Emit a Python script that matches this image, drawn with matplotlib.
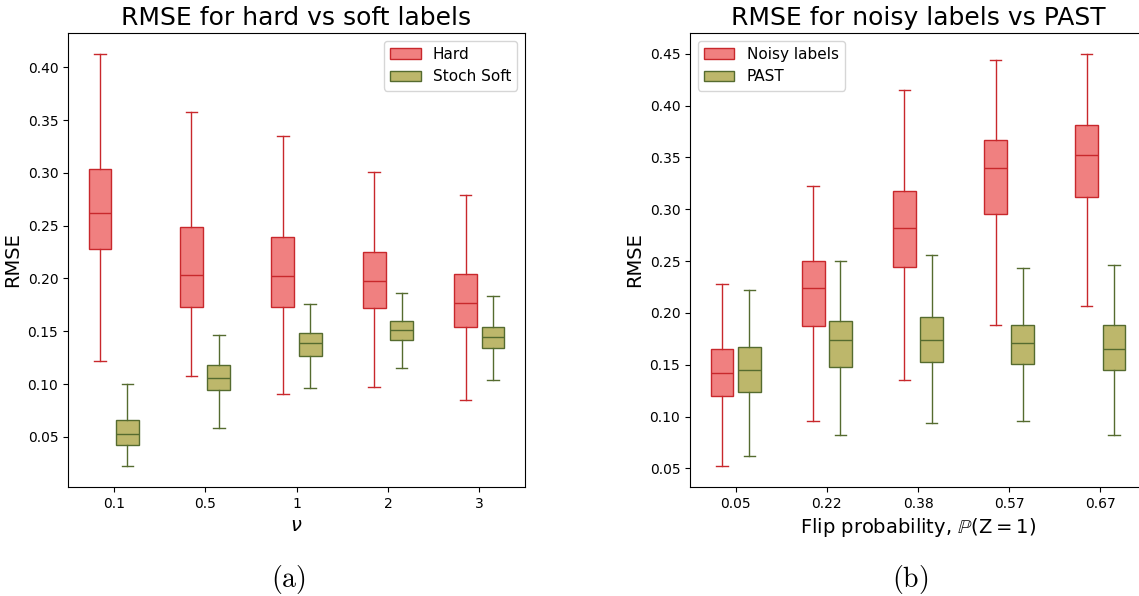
import matplotlib
matplotlib.use("Agg")
import matplotlib.pyplot as plt
from matplotlib.patches import Patch

# ---------- data (box statistics) ----------
nu_labels = ["0.1", "0.5", "1", "2", "3"]
hard_lo  = [0.122, 0.108, 0.091, 0.097, 0.085]
hard_q1  = [0.228, 0.173, 0.173, 0.172, 0.154]
hard_med = [0.262, 0.203, 0.202, 0.198, 0.177]
hard_q3  = [0.304, 0.249, 0.239, 0.225, 0.204]
hard_hi  = [0.413, 0.358, 0.335, 0.301, 0.279]

soft_lo  = [0.022, 0.058, 0.096, 0.115, 0.104]
soft_q1  = [0.042, 0.094, 0.127, 0.142, 0.134]
soft_med = [0.053, 0.106, 0.139, 0.151, 0.145]
soft_q3  = [0.066, 0.118, 0.148, 0.160, 0.154]
soft_hi  = [0.100, 0.146, 0.176, 0.186, 0.183]

flip_labels = ["0.05", "0.22", "0.38", "0.57", "0.67"]
noisy_lo  = [0.052, 0.096, 0.135, 0.188, 0.207]
noisy_q1  = [0.120, 0.187, 0.244, 0.295, 0.312]
noisy_med = [0.142, 0.224, 0.282, 0.340, 0.352]
noisy_q3  = [0.165, 0.250, 0.318, 0.367, 0.381]
noisy_hi  = [0.228, 0.322, 0.415, 0.444, 0.450]

past_lo  = [0.062, 0.082, 0.094, 0.096, 0.082]
past_q1  = [0.124, 0.148, 0.153, 0.151, 0.145]
past_med = [0.145, 0.174, 0.174, 0.171, 0.165]
past_q3  = [0.167, 0.192, 0.196, 0.188, 0.188]
past_hi  = [0.222, 0.250, 0.256, 0.243, 0.246]

# ---------- styles ----------
RED_FACE, RED_EDGE = "#F08080", "#C8282C"
OLV_FACE, OLV_EDGE = "#BDB76B", "#556B2F"
OFFSET, WIDTH = 0.15, 0.25


def stats(lo, q1, med, q3, hi):
    return [dict(whislo=a, q1=b, med=c, q3=d, whishi=e, fliers=[])
            for a, b, c, d, e in zip(lo, q1, med, q3, hi)]


def draw(ax, st, pos, face, edge):
    ax.bxp(st, positions=pos, widths=WIDTH, patch_artist=True,
           showfliers=False, manage_ticks=False,
           boxprops=dict(facecolor=face, edgecolor=edge, linewidth=1.0),
           medianprops=dict(color=edge, linewidth=1.0),
           whiskerprops=dict(color=edge, linewidth=1.0),
           capprops=dict(color=edge, linewidth=1.0))


fig = plt.figure(figsize=(11.39, 5.96), dpi=100)
W, H = 1139, 596
ax1 = fig.add_axes([68 / W, 1 - 487 / H, 457 / W, 454 / H])
ax2 = fig.add_axes([690 / W, 1 - 487 / H, 456 / W, 454 / H])

panels = [
    (ax1, nu_labels, stats(hard_lo, hard_q1, hard_med, hard_q3, hard_hi),
     stats(soft_lo, soft_q1, soft_med, soft_q3, soft_hi),
     ["Hard", "Stoch Soft"], "upper right",
     "RMSE for hard vs soft labels", r"$\nu$"),
    (ax2, flip_labels, stats(noisy_lo, noisy_q1, noisy_med, noisy_q3, noisy_hi),
     stats(past_lo, past_q1, past_med, past_q3, past_hi),
     ["Noisy labels", "PAST"], "upper left",
     "RMSE for noisy labels vs PAST",
     r"Flip probability, $\mathbb{P}(\mathrm{Z}=1)$"),
]

for ax, labels, st_a, st_b, names, loc, title, xlabel in panels:
    n = len(labels)
    xs = list(range(n))
    draw(ax, st_a, [x - OFFSET for x in xs], RED_FACE, RED_EDGE)
    draw(ax, st_b, [x + OFFSET for x in xs], OLV_FACE, OLV_EDGE)
    ax.set_xticks(xs)
    ax.set_xticklabels(labels)
    ax.set_xlim(-0.5, n - 0.5)
    ax.tick_params(labelsize=10)
    ax.set_title(title, fontsize=18)
    ax.set_ylabel("RMSE", fontsize=14)
    ax.set_xlabel(xlabel, fontsize=14)
    handles = [Patch(facecolor=RED_FACE, edgecolor=RED_EDGE),
               Patch(facecolor=OLV_FACE, edgecolor=OLV_EDGE)]
    ax.legend(handles, names, loc=loc, fontsize=11)

ax1.set_yticks([0.05, 0.10, 0.15, 0.20, 0.25, 0.30, 0.35, 0.40])
ax2.set_yticks([0.05, 0.10, 0.15, 0.20, 0.25, 0.30, 0.35, 0.40, 0.45])
ax1.set_ylim(0.0025, 0.4325)
ax2.set_ylim(0.032, 0.470)

fig.text(288 / W, 1 - 580 / H, r"$\mathrm{(a)}$", ha="center", va="center",
         fontsize=20, math_fontfamily="cm")
fig.text(910 / W, 1 - 580 / H, r"$\mathrm{(b)}$", ha="center", va="center",
         fontsize=20, math_fontfamily="cm")

fig.savefig("out.png", dpi=100)
